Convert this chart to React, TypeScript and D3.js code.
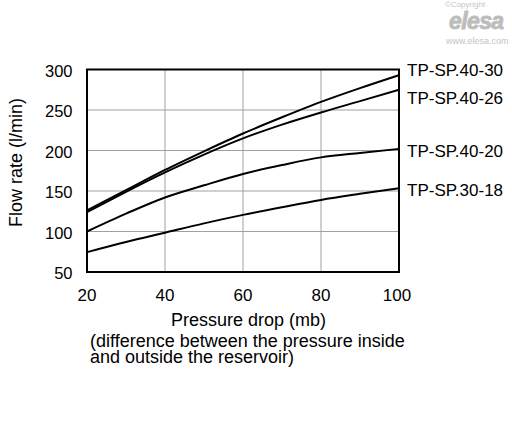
import * as d3 from 'd3';

// --- Data ---
const pressure = [20, 30, 40, 50, 60, 70, 80, 90, 100];
const sp4030 = [126, 151, 176, 199, 221, 241, 260, 277, 293];
const sp4026 = [124, 149, 173, 195, 215, 232, 247, 261, 275];
const sp4020 = [100, 122, 142, 157, 171, 182, 191.5, 197, 202];
const sp3018 = [74.5, 87, 98.5, 110, 120.5, 130, 139, 146.5, 153.5];
const seriesNames = ['TP-SP.40-30', 'TP-SP.40-26', 'TP-SP.40-20', 'TP-SP.30-18'];
const xTicks = [20, 40, 60, 80, 100];
const yTicks = [50, 100, 150, 200, 250, 300];

const W = 512;
const H = 430;
const plot = { left: 87, right: 399, top: 69.5, bottom: 272 };
const FONT = '"Liberation Sans", Arial, sans-serif';

export default function App() {
    const x = d3.scaleLinear().domain([20, 100]).range([plot.left, plot.right]);
    const y = d3.scaleLinear().domain([50, 300]).range([plot.bottom, plot.top]);

    const line = d3.line<[number, number]>()
        .x(d => x(d[0]))
        .y(d => y(d[1]))
        .curve(d3.curveMonotoneX);

    const series = [sp4030, sp4026, sp4020, sp3018];
    // pixel nudges so the names sit where the original puts them
    const labelNudge = [-5, 8, 2, 2];

    return (
        <svg width={W} height={H} style={{ position: 'absolute', left: 0, top: 0, background: '#fff' }}
             fontFamily={FONT}>
            {/* logo */}
            <text x={445} y={6.5} fontSize={8} fill="#c4c4c4">©Copyright</text>
            <text x={449} y={29} fontSize={23} fontWeight="bold" fontStyle="italic" fill="#bdbdbd"
                  stroke="#bdbdbd" strokeWidth={0.8} letterSpacing={-0.6}>elesa</text>
            <text x={446} y={44} fontSize={9} fill="#c4c4c4">www.elesa.com</text>

            {/* grid */}
            {xTicks.slice(1, -1).map(t => (
                <line key={'gx' + t} x1={x(t)} x2={x(t)} y1={plot.top} y2={plot.bottom}
                      stroke="#a0a0a0" strokeWidth={1} />
            ))}
            {yTicks.slice(1, -1).map(t => (
                <line key={'gy' + t} x1={plot.left} x2={plot.right} y1={y(t)} y2={y(t)}
                      stroke="#a0a0a0" strokeWidth={1} />
            ))}

            {/* curves */}
            {series.map((s, i) => (
                <path key={i} d={line(pressure.map((p, j) => [p, s[j]] as [number, number])) || ''}
                      fill="none" stroke="#000" strokeWidth={2} />
            ))}

            {/* frame */}
            <rect x={plot.left} y={plot.top} width={plot.right - plot.left} height={plot.bottom - plot.top}
                  fill="none" stroke="#000" strokeWidth={2} />

            {/* series labels */}
            {series.map((s, i) => (
                <text key={'l' + i} x={407} y={y(s[s.length - 1]) + labelNudge[i]} dy="0.35em"
                      fontSize={17} fill="#000">{seriesNames[i]}</text>
            ))}

            {/* y ticks */}
            {yTicks.map(t => (
                <text key={'yt' + t} x={72.5} y={y(t) + 1.5} dy="0.35em" textAnchor="end" fontSize={16.5}>{t}</text>
            ))}
            {/* x ticks */}
            {xTicks.map(t => (
                <text key={'xt' + t} x={x(t) - (t === 100 ? 2 : 0)} y={300.5} textAnchor="middle"
                      fontSize={17}>{t}</text>
            ))}

            {/* axis titles */}
            <text transform="translate(21.5,162.5) rotate(-90)" textAnchor="middle" fontSize={18}>
                Flow rate (l/min)
            </text>
            <text x={248.5} y={325.5} textAnchor="middle" fontSize={18}>Pressure drop (mb)</text>
            <text x={90} y={346.5} fontSize={18}>(difference between the pressure inside</text>
            <text x={90} y={363} fontSize={18}>and outside the reservoir)</text>
        </svg>
    );
}
